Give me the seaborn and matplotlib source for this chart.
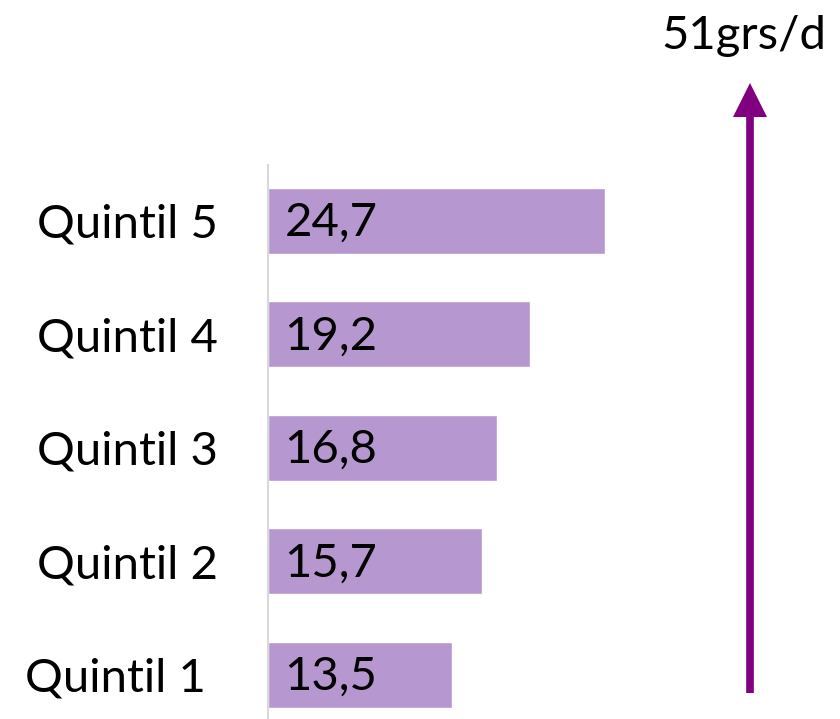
import matplotlib
matplotlib.use("Agg")
import matplotlib.pyplot as plt
import matplotlib.transforms as mtransforms
import pandas as pd
import seaborn as sns

categories = ["Quintil 5", "Quintil 4", "Quintil 3", "Quintil 2", "Quintil 1"]
values = [24.7, 19.2, 16.8, 15.7, 13.5]
value_labels = ["24,7", "19,2", "16,8", "15,7", "13,5"]
arrow_label = "51grs/d"

df = pd.DataFrame({"quintil": categories, "grs": values})

sns.set_theme(style="white")
plt.rcParams["font.family"] = ["Lato", "DejaVu Sans"]

W, H = 840, 719
fig = plt.figure(figsize=(W / 100, H / 100), dpi=100)
# axes: left edge at x=268 px, top at y=165 px, bottom at figure bottom
ax = fig.add_axes([268 / W, 0, (W - 268) / W, (H - 165) / H])

sns.barplot(data=df, y="quintil", x="grs", color="#b797d0", saturation=1,
            width=0.58, ax=ax)

ax.set_xlim(0, (W - 268) / 13.64)
ax.set_ylim(4.39, -0.49)

for i, lab in enumerate(value_labels):
    ax.text(1.2, i + 0.02, lab, va="center", ha="left", fontsize=34, color="black")

ax.set_xlabel("")
ax.set_ylabel("")
ax.set_xticks([])
for s in ["top", "right", "bottom"]:
    ax.spines[s].set_visible(False)
ax.spines["left"].set_color("#d9d9d9")
ax.spines["left"].set_linewidth(1.5)
ax.tick_params(axis="y", length=0, pad=36, labelsize=34)
for lab in ax.get_yticklabels():
    lab.set_color("black")

# Quintil 1 label sits a bit further left in the original
q1 = ax.get_yticklabels()[-1]
q1.set_transform(q1.get_transform() + mtransforms.ScaledTranslation(-12 / 100, 0, fig.dpi_scale_trans))

# purple arrow on the right
ax.annotate("", xy=(750 / W, 1 - 83 / H), xytext=(750 / W, 1 - 693 / H),
            xycoords="figure fraction", textcoords="figure fraction",
            arrowprops=dict(arrowstyle="-|>,head_length=1.3,head_width=0.65",
                            color="#800080", lw=5.5, shrinkA=0, shrinkB=0,
                            joinstyle="miter", capstyle="butt"))
fig.text(744 / W, 1 - 36 / H, arrow_label, ha="center", va="center",
         fontsize=34, color="black")

fig.savefig("out.png", dpi=100)
